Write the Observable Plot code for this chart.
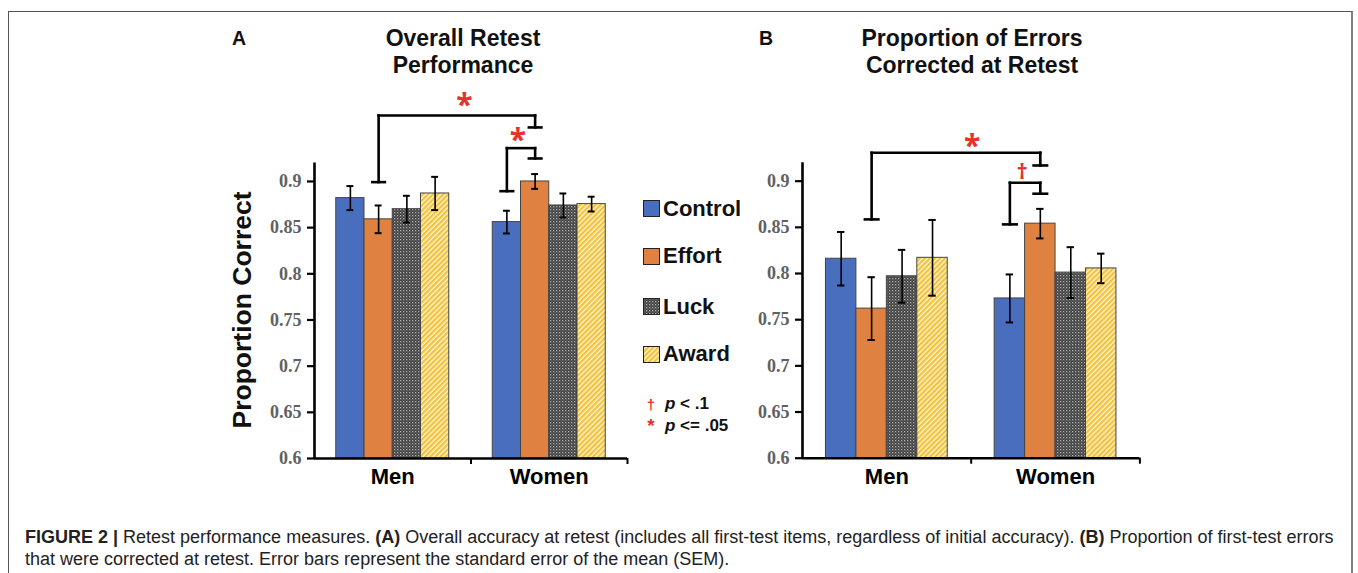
<!DOCTYPE html>
<html>
<head>
<meta charset="utf-8">
<script src="https://cdn.jsdelivr.net/npm/d3@7"></script>
<script src="https://cdn.jsdelivr.net/npm/@observablehq/plot@0.6"></script>
<style>
  html, body { margin: 0; padding: 0; background: #fff; }
  body { width: 1358px; height: 573px; overflow: hidden; position: relative; font-family: "Liberation Sans", Arial, sans-serif; color: #111; }
  .frame { position: absolute; left: 8px; top: 11px; width: 1345px; height: 640px; border: 1.5px solid #555; border-right: 2px solid #808080; box-sizing: border-box; }
  .abs { position: absolute; }
  .title { font-weight: bold; font-size: 23px; line-height: 27.6px; text-align: center; white-space: nowrap; transform: translateX(-50%); }
  .letter { font-weight: bold; font-size: 19.5px; line-height: 20px; }
  .ylabel { font-weight: bold; font-size: 26.5px; white-space: nowrap; transform: translate(-50%, -50%) rotate(-90deg); line-height: 1; }
  .legrow { display: flex; align-items: center; height: 22px; font-weight: bold; font-size: 22px; line-height: 22px; white-space: nowrap; }
  .legrow svg { margin-right: 3px; }
  .sigrow { display: flex; align-items: center; height: 20px; font-weight: bold; font-size: 17px; white-space: nowrap; }
  .sigrow .sym { color: #e8302a; width: 16px; text-align: center; margin-right: 6px; }
  .caption { font-size: 18px; line-height: 22px; color: #222; white-space: nowrap; }
  .plot { position: absolute; }
</style>
</head>
<body>
<svg width="0" height="0" style="position:absolute">
  <defs>
    <pattern id="luckPat" width="3" height="3" patternUnits="userSpaceOnUse">
      <rect width="3" height="3" fill="#3c3c3c"></rect>
      <rect x="0" y="0" width="1.3" height="1.3" fill="#b4b4b4"></rect>
      <rect x="1.5" y="1.5" width="1.1" height="1.1" fill="#8a8a8a"></rect>
    </pattern>
    <pattern id="awardPat" width="3.6" height="3.6" patternUnits="userSpaceOnUse" patternTransform="rotate(45)">
      <rect width="3.6" height="3.6" fill="#fdf3d0"></rect>
      <rect width="2.2" height="3.6" fill="#f2c23c"></rect>
    </pattern>
  </defs>
</svg>

<div class="frame"></div>

<div class="abs letter" style="left:232px; top:28px;">A</div>
<div class="abs letter" style="left:759px; top:28px;">B</div>
<div class="abs title" style="left:463px; top:24.9px;">Overall Retest<br>Performance</div>
<div class="abs title" style="left:972px; top:24.9px;">Proportion of Errors<br>Corrected at Retest</div>
<div class="abs ylabel" style="left:242px; top:310px;">Proportion Correct</div>

<div id="panelA" class="plot" style="left:220px; top:80px;"></div>
<div id="panelB" class="plot" style="left:730px; top:80px;"></div>

<div id="legend" class="abs" style="left:643px; top:0px;"></div>

<div class="abs caption" style="left:25px; top:525.5px;"><b>FIGURE 2 |</b> Retest performance measures. <b>(A)</b> Overall accuracy at retest (includes all first-test items, regardless of initial accuracy). <b>(B)</b> Proportion of first-test errors<br>that were corrected at retest. Error bars represent the standard error of the mean (SEM).</div>

<script>
// ---------- data ----------
const groups = ["Men", "Women"];
const conditions = ["Control", "Effort", "Luck", "Award"];
const yTicks = [0.6, 0.65, 0.7, 0.75, 0.8, 0.85, 0.9];

// Panel A: overall retest performance (proportion correct)
const retestMen = [0.882, 0.859, 0.870, 0.887];
const retestMenSE = [0.013, 0.015, 0.0145, 0.018];
const retestWomen = [0.856, 0.900, 0.874, 0.8755];
const retestWomenSE = [0.0123, 0.008, 0.013, 0.008];

// Panel B: proportion of errors corrected at retest
const correctedMen = [0.816, 0.762, 0.797, 0.817];
const correctedMenSE = [0.029, 0.034, 0.0286, 0.041];
const correctedWomen = [0.773, 0.854, 0.801, 0.8055];
const correctedWomenSE = [0.026, 0.016, 0.0275, 0.016];

// significance brackets (y in data units)
const sigA = [
  {from: ["Men", "Effort"], to: ["Women", "Effort"], fromEnd: 0.8993, toEnd: 0.9585, top: 0.9715, symbol: "*", symX: 0.958, symY: 0.990},
  {from: ["Women", "Control"], to: ["Women", "Effort"], fromEnd: 0.8895, toEnd: 0.9249, top: 0.9361, symbol: "*", symX: 1.30, symY: 0.952}
];
const sigB = [
  {from: ["Men", "Effort"], to: ["Women", "Effort"], fromEnd: 0.8586, toEnd: 0.917, top: 0.9308, symbol: "*", symX: 1.006, symY: 0.945},
  {from: ["Women", "Control"], to: ["Women", "Effort"], fromEnd: 0.8532, toEnd: 0.8864, top: 0.8983, symbol: "\u2020", symX: 1.302, symY: 0.9097}
];

// ---------- styles ----------
const fills = ["#4a6ebe", "#de8141", "url(#luckPat)", "url(#awardPat)"];
const red = "#e8302a";
const groupWidth = 0.722;
const barW = groupWidth / conditions.length;
const errCap = 0.022;
const bracketCap = 0.04;

function center(g, c) {
  return groups.indexOf(g) + 0.5 + (conditions.indexOf(c) - 1.5) * barW;
}

function panel(men, menSE, women, womenSE, sig, dims) {
  const rows = [];
  [[men, menSE], [women, womenSE]].forEach(([vals, ses], gi) => {
    conditions.forEach((c, ci) => {
      const xc = center(groups[gi], c);
      rows.push({group: groups[gi], condition: c, value: vals[ci], se: ses[ci], xc, x1: xc - barW / 2, x2: xc + barW / 2});
    });
  });
  const segs = [];
  sig.forEach(s => {
    const xl = center(...s.from), xr = center(...s.to);
    segs.push({x1: xl, y1: s.top, x2: xl, y2: s.fromEnd});
    segs.push({x1: xl - bracketCap, y1: s.fromEnd, x2: xl + bracketCap, y2: s.fromEnd});
    segs.push({x1: xl, y1: s.top, x2: xr, y2: s.top});
    segs.push({x1: xr, y1: s.top, x2: xr, y2: s.toEnd});
    segs.push({x1: xr - bracketCap, y1: s.toEnd, x2: xr + bracketCap, y2: s.toEnd});
  });
  return Plot.plot({
    ...dims,
    style: {overflow: "visible", background: "transparent"},
    x: {domain: [0, 2]},
    y: {domain: [0.6, 0.92]},
    color: {type: "ordinal", domain: conditions, range: fills},
    marks: [
      Plot.rectY(rows, {x1: "x1", x2: "x2", y1: 0.6, y2: "value", fill: "condition", stroke: "#444", strokeWidth: 1}),
      Plot.ruleX(rows, {x: "xc", y1: d => d.value - d.se, y2: d => d.value + d.se, stroke: "#000", strokeWidth: 1.6}),
      Plot.ruleY(rows, {y: d => d.value + d.se, x1: d => d.xc - errCap, x2: d => d.xc + errCap, stroke: "#000", strokeWidth: 2}),
      Plot.ruleY(rows, {y: d => d.value - d.se, x1: d => d.xc - errCap, x2: d => d.xc + errCap, stroke: "#000", strokeWidth: 2}),
      Plot.ruleX([0], {y1: 0.6, y2: 0.92, stroke: "#000", strokeWidth: 2.6}),
      Plot.ruleY([0.6], {x1: 0, x2: 2, stroke: "#000", strokeWidth: 2.6}),
      Plot.axisY({ticks: yTicks, tickFormat: d => String(+d.toFixed(2)), tickSize: 7, tickPadding: 6, stroke: "#000", strokeWidth: 2.2,
        fill: "#616161", fontFamily: "Liberation Serif", fontWeight: "bold", fontSize: 18, label: null}),
      Plot.axisX({ticks: [1, 2], tickSize: 6, tickFormat: () => "", stroke: "#000", strokeWidth: 2, label: null}),
      Plot.axisX({ticks: [0.5, 1.5], tickSize: 0, tickPadding: 10, tickFormat: d => groups[Math.floor(d)],
        fill: "#000", fontFamily: "Liberation Sans", fontWeight: "bold", fontSize: 22, label: null}),
      Plot.link(segs, {x1: "x1", y1: "y1", x2: "x2", y2: "y2", stroke: "#000", strokeWidth: 2.6, strokeLinecap: "square"}),
      Plot.text(sig.filter(s => s.symbol === "*"), {x: "symX", y: "symY", text: "symbol", fill: red, fontSize: 30, fontWeight: "bold", dy: 7}),
      Plot.text(sig.filter(s => s.symbol !== "*"), {x: "symX", y: "symY", text: "symbol", fill: red, fontSize: 22, fontWeight: "bold"})
    ]
  });
}

document.getElementById("panelA").append(panel(retestMen, retestMenSE, retestWomen, retestWomenSE, sigA,
  {width: 420, height: 420, marginLeft: 94, marginRight: 13, marginTop: 82.5, marginBottom: 42}));
document.getElementById("panelB").append(panel(correctedMen, correctedMenSE, correctedWomen, correctedWomenSE, sigB,
  {width: 420, height: 420, marginLeft: 72, marginRight: 10.6, marginTop: 82.2, marginBottom: 42.3}));

// ---------- legend ----------
const legendY = [208.5, 256, 306.5, 354.3];
const legend = document.getElementById("legend");
conditions.forEach((c, i) => {
  const row = document.createElement("div");
  row.className = "legrow";
  row.style.position = "absolute";
  row.style.left = "0px";
  row.style.top = (legendY[i] - 11) + "px";
  row.innerHTML = `<svg width="17" height="17"><rect x="0.5" y="0.5" width="16" height="16" fill="${fills[i]}" stroke="#222" stroke-width="1"></rect></svg><span>${c}</span>`;
  legend.append(row);
});
const sigLegend = [["\u2020", "&lt; .1", 404, 15], ["*", "&lt;= .05", 426, 19]];
sigLegend.forEach(([sym, txt, y, fs]) => {
  const row = document.createElement("div");
  row.className = "sigrow";
  row.style.position = "absolute";
  row.style.left = "0px";
  row.style.top = (y - 10) + "px";
  row.innerHTML = `<span class="sym" style="font-size:${fs}px">${sym}</span><span><i>p</i> ${txt}</span>`;
  legend.append(row);
});
</script>
</body>
</html>
